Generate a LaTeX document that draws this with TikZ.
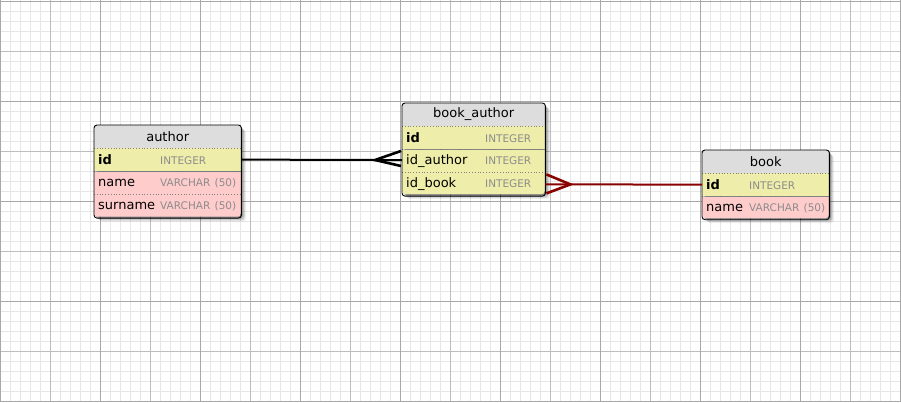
\documentclass[tikz,border=0pt]{standalone}
\usepackage{fontspec}
\setmainfont{DejaVu Sans}
\usetikzlibrary{calc}
\definecolor{gridminor}{HTML}{E6E6E6}
\definecolor{gridmid}{HTML}{BDBDBD}
\definecolor{gridmajor}{HTML}{A8A8A8}
\definecolor{hdrfill}{HTML}{DDDDDD}
\definecolor{keyfill}{HTML}{EEEEAA}
\definecolor{rowfill}{HTML}{FFCCCC}
\definecolor{typegray}{HTML}{8C8C8C}
\definecolor{fkred}{HTML}{880000}
\newcommand{\rowtxt}[3]{\mbox{\makebox[#1][l]{#2}{\fontsize{10.5}{12}\selectfont\color{typegray}#3}}}
\tikzset{
  hdr/.style={anchor=north west, fill=hdrfill, minimum width=#1, minimum height=22.5pt, inner sep=0pt, font=\fontsize{13}{15}\selectfont},
  rowbox/.style={anchor=north west, minimum width=#1, text width=#1-8pt, align=left, inner xsep=4pt, inner ysep=0pt, minimum height=23pt, font=\fontsize{13}{15}\selectfont},
  keyrow/.style={rowbox=#1, fill=keyfill},
  plainrow/.style={rowbox=#1, fill=rowfill},
  sepline/.style={gray, dotted, line width=0.8pt},
  tborder/.style={draw=black, line width=0.9pt, rounded corners=3pt},
  conn/.style={line width=2pt},
  crow/.style={line width=2.6pt},
}
\newcommand{\shadowbox}[2]{%
  \foreach \o/\a in {1/0.18,2/0.15,3/0.12,4/0.09,5/0.06}{
    \fill[black, opacity=\a, rounded corners=3pt] ($(#1)+(\o,\o)$) rectangle ($(#2)+(\o,\o)$);
  }}
\begin{document}
\begin{tikzpicture}[x=1pt, y=-1pt]
\useasboundingbox (0,0) rectangle (901,402);
% grid
\foreach \x in {0,10,...,900} \draw[gridminor, line width=1pt] (\x+0.5,0) -- (\x+0.5,402);
\foreach \y in {1,11,...,401} \draw[gridminor, line width=1pt] (0,\y+0.5) -- (901,\y+0.5);
\foreach \x in {50,150,...,850} \draw[gridmid, line width=1pt] (\x+0.5,0) -- (\x+0.5,402);
\foreach \y in {51,151,...,351} \draw[gridmid, line width=1pt] (0,\y+0.5) -- (901,\y+0.5);
\foreach \x in {0,100,...,900} \draw[gridmajor, line width=1pt] (\x+0.5,0) -- (\x+0.5,402);
\foreach \y in {1,101,...,401} \draw[gridmajor, line width=1pt] (0,\y+0.5) -- (901,\y+0.5);

% ---------- author ----------
\shadowbox{94,125}{241,216.5}
\begin{scope}
\clip[rounded corners=3pt] (94,125) rectangle (241,216.5);
\node[hdr=147pt] (aH) at (94,125) {author};
\node[keyrow=147pt] (aR1) at (aH.south west) {\rowtxt{62pt}{\bfseries id}{INTEGER}};
\node[plainrow=147pt] (aR2) at (aR1.south west) {\rowtxt{62pt}{name}{VARCHAR (50)}};
\node[plainrow=147pt] (aR3) at (aR2.south west) {\rowtxt{62pt}{surname}{VARCHAR (50)}};
\end{scope}
\draw[sepline] (aH.south west) -- (aH.south east);
\draw[sepline] (aR1.south west) -- (aR1.south east);
\draw[sepline] (aR2.south west) -- (aR2.south east);
\draw[tborder] (aH.north west) rectangle (aR3.south east);

% ---------- book_author ----------
\shadowbox{402,103}{545,194}
\begin{scope}
\clip[rounded corners=3pt] (402,103) rectangle (545,194);
\node[hdr=143pt] (baH) at (402,103) {book\_author};
\node[keyrow=143pt] (baR1) at (baH.south west) {\rowtxt{79pt}{\bfseries id}{INTEGER}};
\node[keyrow=143pt] (baR2) at (baR1.south west) {\rowtxt{79pt}{id\_author}{INTEGER}};
\node[keyrow=143pt] (baR3) at (baR2.south west) {\rowtxt{79pt}{id\_book}{INTEGER}};
\end{scope}
\draw[sepline] (baH.south west) -- (baH.south east);
\draw[sepline] (baR1.south west) -- (baR1.south east);
\draw[sepline] (baR2.south west) -- (baR2.south east);
\draw[tborder] (baH.north west) rectangle (baR3.south east);

% ---------- book ----------
\shadowbox{702,150}{829,218}
\begin{scope}
\clip[rounded corners=3pt] (702,150) rectangle (829,218);
\node[hdr=127pt] (bH) at (702,150) {book};
\node[keyrow=127pt] (bR1) at (bH.south west) {\rowtxt{43pt}{\bfseries id}{INTEGER}};
\node[plainrow=127pt] (bR2) at (bR1.south west) {\rowtxt{43pt}{name}{VARCHAR (50)}};
\end{scope}
\draw[sepline] (bH.south west) -- (bH.south east);
\draw[sepline] (bR1.south west) -- (bR1.south east);
\draw[tborder] (bH.north west) rectangle (bR2.south east);

% ---------- connectors ----------
\coordinate (apex1) at ($(baR2.west)+(-27,-1)$);
\draw[conn] (aR1.east) -- (apex1) -- ($(baR2.west)+(0,-1)$);
\draw[crow] ($(baR2.west)+(-1,-10)$) -- (apex1) -- ($(baR2.west)+(-1,5)$);

\coordinate (apex2) at ($(baR3.east)+(25,0)$);
\draw[conn, fkred] (bR1.west) -- (apex2) -- (baR3.east);
\draw[crow, fkred] ($(baR3.east)+(1,-10)$) -- (apex2) -- ($(baR3.east)+(1,9)$);
\end{tikzpicture}
\end{document}
